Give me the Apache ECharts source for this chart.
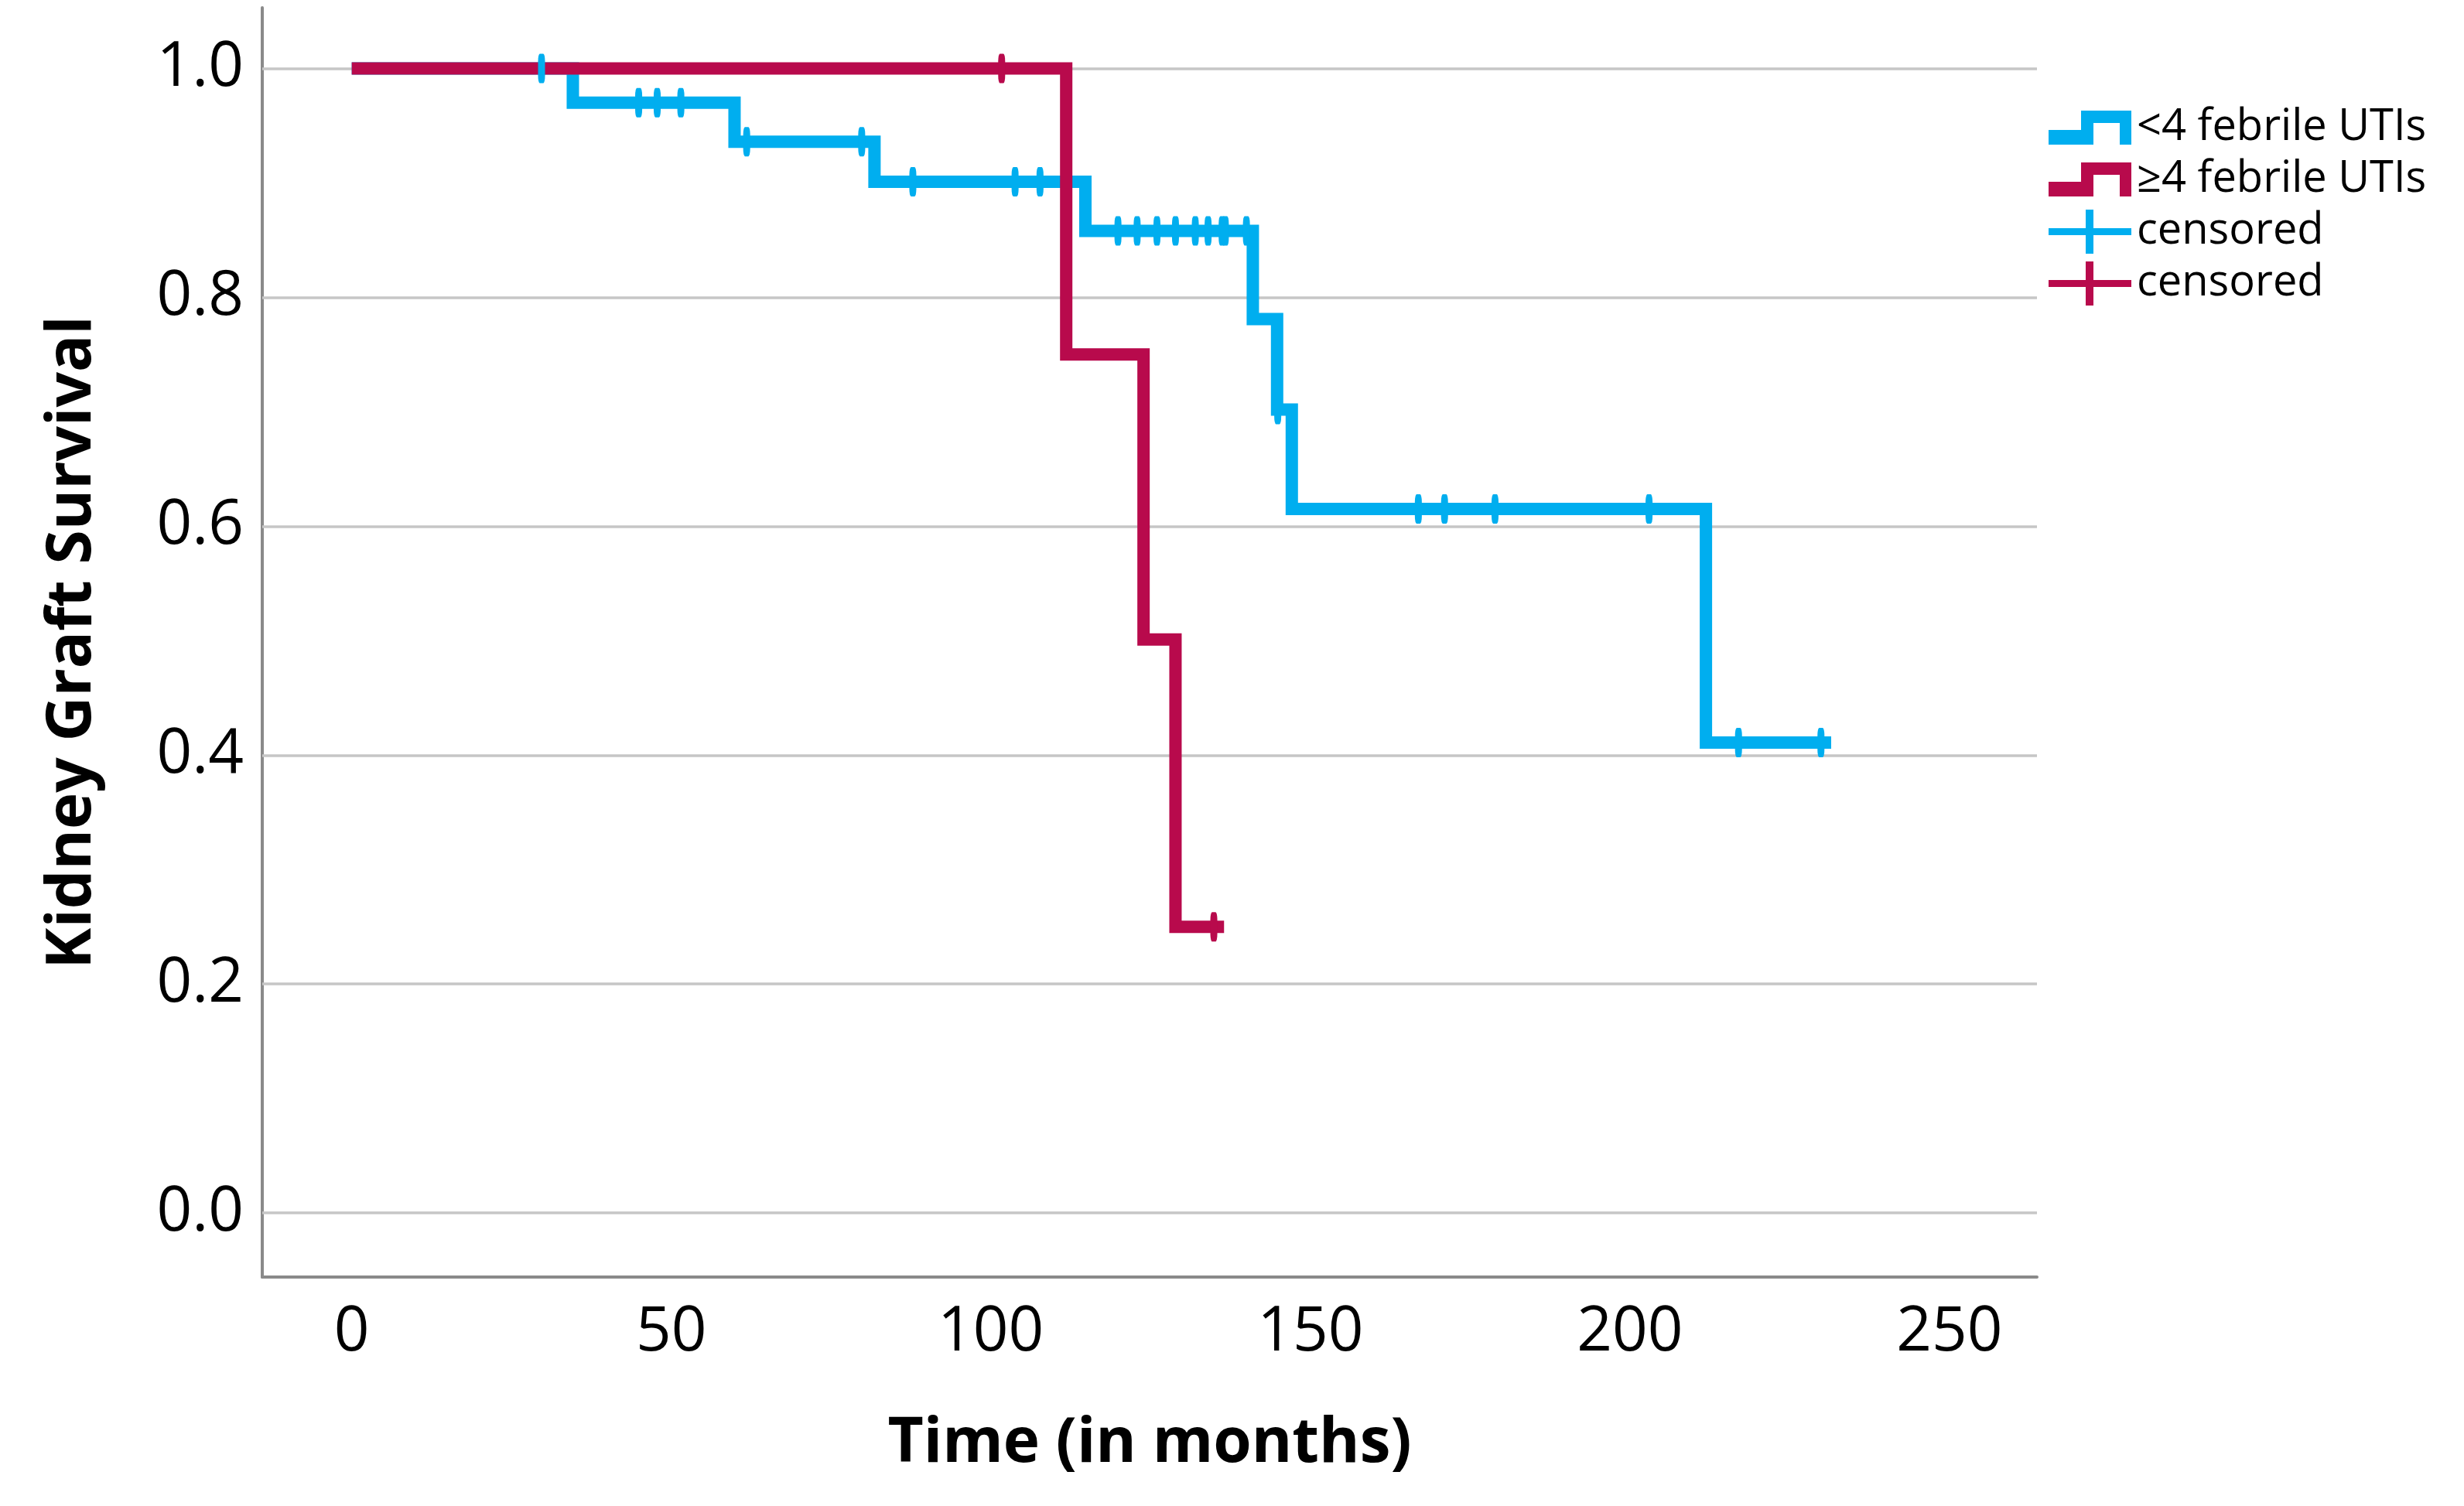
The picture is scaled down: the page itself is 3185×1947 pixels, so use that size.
<!DOCTYPE html>
<html>
<head>
<meta charset="utf-8">
<script src="https://cdn.jsdelivr.net/npm/echarts@6/dist/echarts.min.js"></script>
<style>
html,body{margin:0;padding:0;background:#fff;}
#chart{width:3185px;height:1947px;}
</style>
</head>
<body>
<div id="chart"></div>
<script>
// ---- data ----
const xTicks = [0, 50, 100, 150, 200, 250];
const yTicks = [0, 0.2, 0.4, 0.6, 0.8, 1.0];

const blueName = '<4 febrile UTIs';
const redName = '\u22654 febrile UTIs';

const blueTimes = [0, 34.6, 59.9, 81.8, 114.8, 141.0, 144.8, 147.1, 211.9, 231.5];
const blueSurv  = [1.0, 0.970, 0.936, 0.901, 0.858, 0.781, 0.702, 0.615, 0.411, 0.411];

const blueCensorTimes = [29.7, 44.9, 47.8, 51.5, 61.8, 79.8, 87.8, 103.8, 107.7,
  119.9, 122.9, 126.0, 128.9, 132.0, 134.0, 136.2, 136.7, 140.0,
  144.9, 166.9, 171.0, 178.9, 203.0, 217.0, 229.9];
const blueCensorSurv = [1.0, 0.970, 0.970, 0.970, 0.936, 0.936, 0.901, 0.901, 0.901,
  0.858, 0.858, 0.858, 0.858, 0.858, 0.858, 0.858, 0.858, 0.858,
  0.702, 0.615, 0.615, 0.615, 0.615, 0.411, 0.411];

const redTimes = [0, 111.8, 123.9, 128.9, 136.5];
const redSurv  = [1.0, 0.750, 0.501, 0.250, 0.250];

const redCensorTimes = [101.7, 134.9];
const redCensorSurv  = [1.0, 0.250];

// ---- styling ----
const BLUE = '#00AEEF';
const RED = '#B80A4C';
const FONT = 'Open Sans';

const zip = (a, b) => a.map((v, i) => [v, b[i]]);

const stepIcon = 'path://M0,0 L0,0 M0,57 L0,57 M0,31 L42,31 L42,6 L107,6 L107,50 L92,50 L92,22 L58,22 L58,50 L0,50 Z';
const crossIcon = 'path://M0,24 L48,24 L48,0 L58,0 L58,24 L107,24 L107,33 L58,33 L58,57 L48,57 L48,33 L0,33 Z';

const chart = echarts.init(document.getElementById('chart'), null, {renderer: 'canvas'});

const option = {
  animation: false,
  backgroundColor: '#ffffff',
  textStyle: {fontFamily: FONT},
  grid: {left: 339, right: 552, top: 10, bottom: 296, containLabel: false},
  legend: {
    orient: 'vertical',
    left: 2643,
    top: 132,
    itemWidth: 107,
    itemHeight: 57,
    itemGap: 10,
    selectedMode: false,
    itemStyle: {borderWidth: 0},
    textStyle: {fontFamily: FONT, fontSize: 56, color: '#000', padding: [0, 0, 0, 2]},
    formatter: name => name.trim(),
    data: [
      {name: blueName, icon: stepIcon},
      {name: redName, icon: stepIcon},
      {name: 'censored', icon: crossIcon},
      {name: 'censored ', icon: crossIcon}
    ]
  },
  xAxis: {
    type: 'value',
    min: -14,
    max: 263.7,
    name: 'Time (in months)',
    nameLocation: 'middle',
    nameGap: 176,
    nameTextStyle: {fontFamily: FONT, fontSize: 80, fontWeight: 'bold', color: '#000'},
    axisLine: {show: true, onZero: false, lineStyle: {color: '#8a8a8a', width: 4}},
    axisTick: {show: false},
    splitLine: {show: false},
    axisLabel: {
      customValues: xTicks,
      margin: 32,
      fontFamily: FONT, fontSize: 80, color: '#000'
    }
  },
  yAxis: {
    type: 'value',
    min: -0.056,
    max: 1.053,
    name: 'Kidney Graft Survival',
    nameLocation: 'middle',
    nameGap: 205,
    nameTextStyle: {fontFamily: FONT, fontSize: 80, fontWeight: 'bold', color: '#000'},
    axisLine: {show: true, onZero: false, lineStyle: {color: '#8a8a8a', width: 4}},
    axisTick: {show: false},
    splitLine: {show: false},
    axisLabel: {
      customValues: yTicks,
      margin: 24,
      padding: [16, 0, 0, 0],
      fontFamily: FONT, fontSize: 80, color: '#000',
      formatter: v => v.toFixed(1)
    }
  },
  series: [
    {
      name: 'grid',
      type: 'line',
      data: [],
      silent: true,
      z: 1,
      markLine: {
        z: 1,
        silent: true,
        symbol: ['none', 'none'],
        label: {show: false},
        lineStyle: {color: '#c6c6c6', width: 3.5, type: 'solid'},
        emphasis: {disabled: true},
        data: yTicks.map(v => ({yAxis: v}))
      }
    },
    {
      name: blueName,
      type: 'line',
      step: 'end',
      data: zip(blueTimes, blueSurv),
      showSymbol: false,
      symbol: 'none',
      z: 2,
      color: BLUE,
      lineStyle: {color: BLUE, width: 16, join: 'miter', cap: 'butt'},
      itemStyle: {color: BLUE}
    },
    {
      name: redName,
      type: 'line',
      step: 'end',
      data: zip(redTimes, redSurv),
      showSymbol: false,
      symbol: 'none',
      z: 3,
      color: RED,
      lineStyle: {color: RED, width: 16, join: 'miter', cap: 'butt'},
      itemStyle: {color: RED}
    },
    {
      name: 'censored',
      type: 'scatter',
      data: zip(blueCensorTimes, blueCensorSurv),
      symbol: 'roundRect',
      symbolSize: [9, 38],
      z: 4,
      color: BLUE,
      itemStyle: {color: BLUE, opacity: 1}
    },
    {
      name: 'censored ',
      type: 'scatter',
      data: zip(redCensorTimes, redCensorSurv),
      symbol: 'roundRect',
      symbolSize: [9, 38],
      z: 5,
      color: RED,
      itemStyle: {color: RED, opacity: 1}
    }
  ]
};

chart.setOption(option);
</script>
</body>
</html>
